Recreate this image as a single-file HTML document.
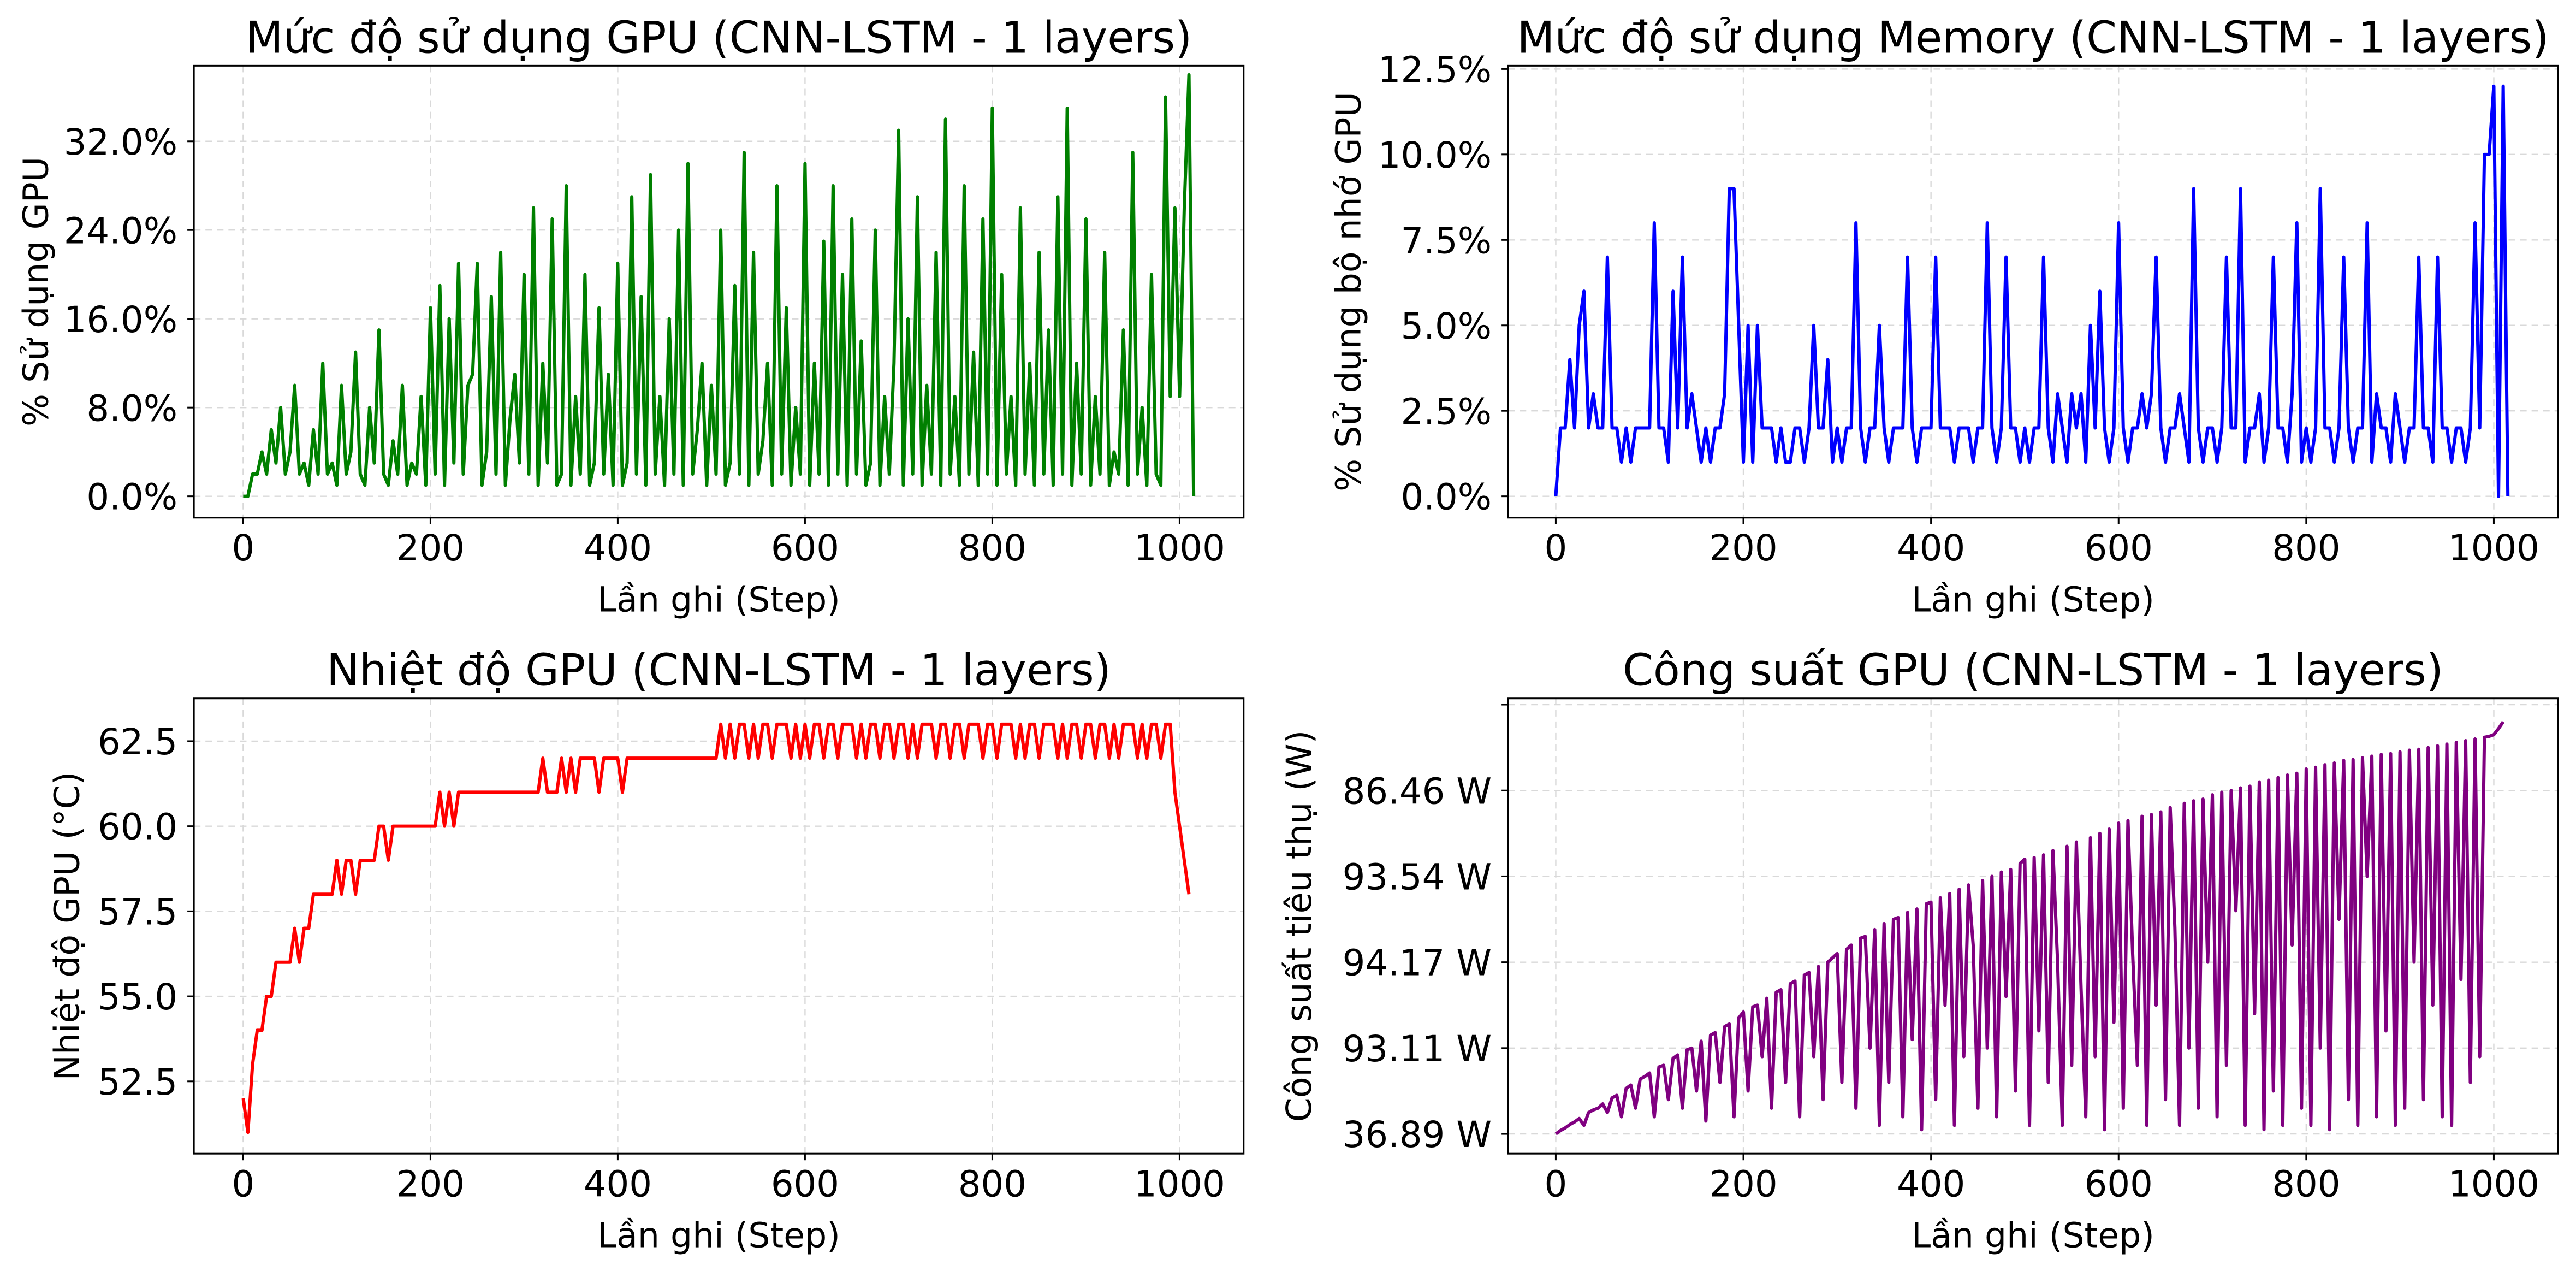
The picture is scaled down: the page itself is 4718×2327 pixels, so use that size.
<!DOCTYPE html>
<html><head><meta charset="utf-8"><style>
html,body{margin:0;padding:0;background:#fff}
svg{display:block}
text{font-family:"DejaVu Sans","Liberation Sans",sans-serif;fill:#000}
</style></head><body>
<svg id="fig" width="4718" height="2327" viewBox="0 0 1568 773.4" xmlns="http://www.w3.org/2000/svg"></svg>
<script>
const STRIDE = 5;
const gpuUtil = [0,0,2,2,4,2,6,3,8,2,4,10,2,3,1,6,2,12,2,3,
1,10,2,4,13,2,1,8,3,15,2,1,5,2,10,1,3,2,9,1,
17,2,19,1,16,3,21,2,10,11,21,1,4,18,2,22,1,7,11,3,
20,2,26,1,12,3,25,1,2,28,1,9,2,20,1,3,17,2,11,1,
21,1,3,27,2,18,1,29,2,9,1,16,2,24,1,30,2,6,12,1,
10,2,24,1,3,19,2,31,1,22,2,5,12,1,28,2,17,1,8,2,
30,1,12,2,23,1,28,2,20,1,25,2,14,1,3,24,1,9,2,12,
33,1,16,2,27,1,10,2,22,1,34,2,9,1,28,2,13,1,25,2,
35,1,20,2,9,1,26,2,12,1,22,2,15,1,27,2,35,1,12,2,
25,1,9,2,22,1,4,2,15,1,31,2,8,1,20,2,1,36,9,26,
9,26,38,0];
const memUtil = [0,2,2,4,2,5,6,2,3,2,2,7,2,2,1,2,1,2,2,2,
2,8,2,2,1,6,2,7,2,3,2,1,2,1,2,2,3,9,9,5,
1,5,1,5,2,2,2,1,2,1,1,2,2,1,2,5,2,2,4,1,
2,1,2,2,8,2,1,2,2,5,2,1,2,2,2,7,2,1,2,2,
2,7,2,2,2,1,2,2,2,1,2,2,8,2,1,2,7,2,2,1,
2,1,2,2,7,2,1,3,2,1,3,2,3,1,5,2,6,2,1,2,
8,2,1,2,2,3,2,3,7,2,1,2,2,3,2,1,9,2,1,2,
2,1,2,7,2,2,9,1,2,2,3,1,2,7,2,2,1,3,8,1,
2,1,2,9,2,2,1,2,7,2,1,2,2,8,1,3,2,2,1,3,
2,1,2,2,7,2,2,1,7,2,2,1,2,2,1,2,8,2,10,10,
12,0,12,0];
const temp = [52,51,53,54,54,55,55,56,56,56,56,57,56,57,57,58,58,58,58,58,
59,58,59,59,58,59,59,59,59,60,60,59,60,60,60,60,60,60,60,60,
60,60,61,60,61,60,61,61,61,61,61,61,61,61,61,61,61,61,61,61,
61,61,61,61,62,61,61,61,62,61,62,61,62,62,62,62,61,62,62,62,
62,61,62,62,62,62,62,62,62,62,62,62,62,62,62,62,62,62,62,62,
62,62,63,62,63,62,63,63,62,63,62,63,63,62,63,63,63,62,63,62,
63,62,63,63,62,63,63,62,63,63,63,62,63,62,63,63,62,63,63,62,
63,63,62,63,62,63,63,63,62,63,63,62,63,63,62,63,63,63,62,63,
63,62,63,63,63,62,63,62,63,63,62,63,63,63,62,63,62,63,63,62,
63,63,62,63,63,62,63,62,63,63,63,62,63,62,63,63,62,63,63,61,
60,59,58];
// power in tick-level units (axis tick labels are non-monotonic)
const power = [0.0,0.04,0.07,0.11,0.14,0.18,0.1,0.25,0.28,0.3,0.35,0.25,0.42,0.45,0.2,0.53,0.57,0.3,0.64,0.67,
0.71,0.2,0.78,0.8,0.4,0.88,0.92,0.3,0.98,1.0,0.5,1.08,0.15,1.15,1.18,0.6,1.25,1.28,0.2,1.35,
1.42,0.5,1.48,1.5,0.9,1.58,0.3,1.65,1.68,0.6,1.75,1.78,0.2,1.85,1.88,0.9,1.95,0.4,2.0,2.05,
2.1,0.6,2.15,2.2,0.3,2.28,2.3,1.0,2.38,0.1,2.45,0.6,2.5,2.52,0.2,2.58,1.1,2.62,0.05,2.68,
2.7,0.4,2.75,1.5,2.8,0.1,2.85,0.9,2.9,2.2,0.3,2.95,1.0,3.0,0.2,3.05,1.6,3.08,0.5,3.15,
3.2,0.1,3.22,1.2,3.25,0.6,3.3,2.0,0.1,3.35,0.8,3.4,1.7,0.2,3.45,0.9,3.5,0.05,3.55,1.3,
3.62,0.3,3.65,2.1,0.8,3.7,0.1,3.72,1.5,3.75,0.4,3.8,2.4,0.1,3.85,1.0,3.88,0.3,3.9,2.0,
3.95,0.2,3.98,0.8,4.0,2.6,4.03,0.1,4.05,1.4,4.1,0.05,4.12,0.5,4.15,0.1,4.18,2.2,4.2,0.3,
4.25,0.1,4.27,1.0,4.3,0.05,4.32,2.5,4.35,0.4,4.36,0.1,4.38,3.0,4.4,0.2,4.42,1.2,4.43,0.1,
4.45,0.3,4.47,2.0,4.48,0.4,4.5,1.5,4.52,0.2,4.54,0.1,4.56,1.8,4.58,0.6,4.6,0.9,4.62,4.63,
4.65,4.72,4.8];
const xTicks = [0,200,400,600,800,1000];
const gpuTicks = [0,8,16,24,32];
const gpuTickLabels = ["0.0%","8.0%","16.0%","24.0%","32.0%"];
const memTicks = [0,2.5,5,7.5,10,12.5];
const memTickLabels = ["0.0%","2.5%","5.0%","7.5%","10.0%","12.5%"];
const tempTicks = [52.5,55,57.5,60,62.5];
const tempTickLabels = ["52.5","55.0","57.5","60.0","62.5"];
const powerTicks = [0,1,2,3,4,5];
const powerTickLabels = ["36.89 W","93.11 W","94.17 W","93.54 W","86.46 W",""];

const NS = "http://www.w3.org/2000/svg";
const fig = document.getElementById('fig');
function mk(tag, attrs, parent, txt){
  const e = document.createElementNS(NS, tag);
  for (const k in attrs) e.setAttribute(k, attrs[k]);
  if (txt !== undefined) e.textContent = txt;
  parent.appendChild(e); return e;
}
const TICK_FS = 21.8, LABEL_FS = 21, TITLE_FS = 26.6;
const panels = [
 {id:'gpu', box:[118,40,757,315], x0:148, xs:0.57, data:gpuUtil, color:'green', yv0:0, yp0:302, yv1:32, yp1:86,
  ticks:gpuTicks, labels:gpuTickLabels, title:'Mức độ sử dụng GPU (CNN-LSTM - 1 layers)', ylab:'% Sử dụng GPU', ylx:29},
 {id:'memory', box:[918,40,1557,315], x0:947, xs:0.571, data:memUtil, color:'blue', yv0:0, yp0:302, yv1:12.5, yp1:42,
  ticks:memTicks, labels:memTickLabels, title:'Mức độ sử dụng Memory (CNN-LSTM - 1 layers)', ylab:'% Sử dụng bộ nhớ GPU', ylx:828},
 {id:'temperature', box:[118,425,757,702], x0:148, xs:0.57, data:temp, color:'red', yv0:52.5, yp0:658, yv1:62.5, yp1:451,
  ticks:tempTicks, labels:tempTickLabels, title:'Nhiệt độ GPU (CNN-LSTM - 1 layers)', ylab:'Nhiệt độ GPU (°C)', ylx:48},
 {id:'power', box:[918,425,1557,702], x0:947, xs:0.571, data:power, color:'purple', yv0:0, yp0:690, yv1:4, yp1:481,
  ticks:powerTicks, labels:powerTickLabels, title:'Công suất GPU (CNN-LSTM - 1 layers)', ylab:'Công suất tiêu thụ (W)', ylx:798},
];
panels.forEach(p=>{
  const g = mk('g', {}, fig);
  
  
  const [L,T,R,B] = p.box;
  const X = s => p.x0 + s*p.xs;
  const Y = v => p.yp0 + (v-p.yv0)*(p.yp1-p.yp0)/(p.yv1-p.yv0);
  xTicks.forEach(t=>{
    const l = mk('line',{x1:X(t),x2:X(t),y1:T,y2:B,stroke:'#d9d9d9','stroke-width':0.8,'stroke-dasharray':'4,3'},g);
     
  });
  p.ticks.forEach(t=>{
    const l = mk('line',{x1:L,x2:R,y1:Y(t),y2:Y(t),stroke:'#d9d9d9','stroke-width':0.8,'stroke-dasharray':'4,3'},g);
     
  });
  const pts = p.data.map((v,i)=>X(i*STRIDE).toFixed(2)+','+Y(v).toFixed(2)).join(' ');
  const line = mk('polyline',{points:pts,fill:'none',stroke:p.color,'stroke-width':2,'stroke-linejoin':'round'},g);
  
  
  const fr = mk('rect',{x:L,y:T,width:R-L,height:B-T,fill:'none',stroke:'#000','stroke-width':1},g);
   
  xTicks.forEach(t=>{
    mk('line',{x1:X(t),x2:X(t),y1:B,y2:B+4,stroke:'#000','stroke-width':1},g);
    const tx = mk('text',{x:X(t),y:B+26,'font-size':TICK_FS,'text-anchor':'middle'},g,String(t));
     
  });
  p.ticks.forEach((t,i)=>{
    mk('line',{x1:L-4,x2:L,y1:Y(t),y2:Y(t),stroke:'#000','stroke-width':1},g);
    const tx = mk('text',{x:L-10,y:Y(t)+8,'font-size':TICK_FS,'text-anchor':'end'},g,p.labels[i]);
     
  });
  const ti = mk('text',{x:(L+R)/2,y:T-8,'font-size':TITLE_FS,'text-anchor':'middle'},g,p.title);
   
  const xl = mk('text',{x:(L+R)/2,y:B+57,'font-size':LABEL_FS,'text-anchor':'middle'},g,'Lần ghi (Step)');
   
  const cy = (T+B)/2;
  const yl = mk('text',{x:p.ylx,y:cy,'font-size':LABEL_FS,'text-anchor':'middle',transform:`rotate(-90 ${p.ylx} ${cy})`},g,p.ylab);
   
});
</script>
</body></html>
